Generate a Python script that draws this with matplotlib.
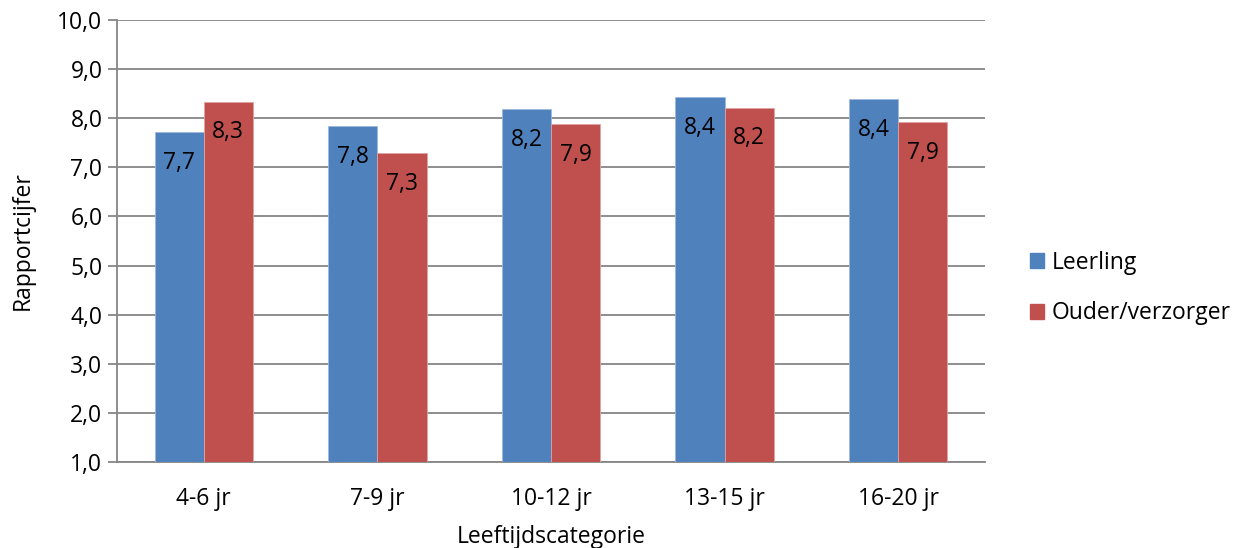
import matplotlib
matplotlib.use("Agg")
import matplotlib.pyplot as plt
import numpy as np
from matplotlib.patches import Patch

categories = ["4-6 jr", "7-9 jr", "10-12 jr", "13-15 jr", "16-20 jr"]
leerling = [7.71, 7.84, 8.18, 8.43, 8.39]
ouder = [8.34, 7.29, 7.88, 8.21, 7.92]
series_names = ["Leerling", "Ouder/verzorger"]
yticks = [1, 2, 3, 4, 5, 6, 7, 8, 9, 10]

blue = "#4F81BD"
red = "#C0504D"
grid_col = "#868686"

plt.rcParams["font.family"] = ["Open Sans", "DejaVu Sans"]

W, H = 1242, 548
fig = plt.figure(figsize=(W / 100, H / 100), dpi=100)
ax = fig.add_axes([117 / W, (H - 462) / H, (985 - 117) / W, (462 - 20) / H])

x = np.arange(len(categories))
bw = 0.283
ax.bar(x - bw / 2, np.array(leerling) - 1, bw, bottom=1, color=blue,
       edgecolor="#9DB9DE", linewidth=0.6, zorder=3)
ax.bar(x + bw / 2, np.array(ouder) - 1, bw, bottom=1, color=red,
       edgecolor="#E0A3A1", linewidth=0.6, zorder=3)

fs = 16.5
for xs, vals in ((x - bw / 2, leerling), (x + bw / 2, ouder)):
    for xi, v in zip(xs, vals):
        ax.annotate(f"{v:.1f}".replace(".", ","), (xi, v), xytext=(0, -22),
                    textcoords="offset points", ha="center", va="center",
                    fontsize=fs, color="black", zorder=4)

ax.set_xlim(-0.5, len(categories) - 0.5)
ax.set_ylim(1, 10)
ax.set_yticks(yticks)
ax.set_yticklabels([f"{t:.1f}".replace(".", ",") for t in yticks], fontsize=fs)
ax.set_xticks(x)
ax.set_xticklabels(categories, fontsize=fs)
ax.tick_params(axis="x", length=0, pad=18)
ax.tick_params(axis="y", length=6.5, width=1.3, color=grid_col, pad=4)

ax.yaxis.grid(True, color=grid_col, linewidth=1.3, zorder=0)
ax.set_axisbelow(True)
for s in ("top", "right"):
    ax.spines[s].set_visible(False)
for s in ("left", "bottom"):
    ax.spines[s].set_color(grid_col)
    ax.spines[s].set_linewidth(1.3)

ax.set_ylabel("Rapportcijfer", fontsize=fs, labelpad=16)
ax.set_xlabel("Leeftijdscategorie", fontsize=fs, labelpad=10)

handles = [Patch(facecolor=blue, edgecolor=blue), Patch(facecolor=red, edgecolor=red)]
fig.legend(handles, series_names, loc="center left",
           bbox_to_anchor=(1021 / W, 1 - 288 / H), frameon=False,
           fontsize=fs, handlelength=0.62, handleheight=0.62, handletextpad=0.3,
           labelspacing=1.15, borderaxespad=0)

fig.savefig("out.png", dpi=100)
